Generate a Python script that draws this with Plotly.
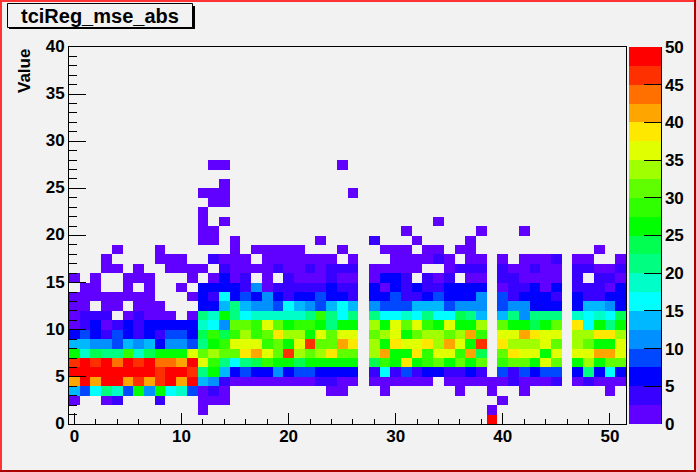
import plotly.graph_objects as go

# Histogram bin centres
x_bins = list(range(52))
y_bins = [v + 0.5 for v in range(40)]

# Colour band of each cell. One character per bin:
# '.' = empty, 0-9 then a-j = palette band 0..19 (each band is 2.5 wide, 0 to 50).
# Groups: x 0-13 | 14-26 | 27 | 28-38 | 39 | 40-45 | 46 | 47-51
row_00 = ".............. ............. . ........... j ...... . ....."
row_01 = "............0. ............. . ........... 0 ...... . ....."
row_02 = "0..01...1...00 0............ . ........... . 0..... . ....."
row_03 = "536873a4a67301 0.........00. . .0......0.. 0 ..0... . ...0."
row_04 = "gjgjjgigijgj54 1000000001100 . 000000.0000 0 010001 . 01000"
row_05 = "jjjjjjjjijji8a 5232242332222 . 16131221121 . 313233 . 28262"
row_06 = "ijijhjijhhgjeb 8689baa9aaaaa . 9bafabcacac . bccaec . adacc"
row_07 = "a7988b79aaaecd ccfgecidcdfcc . dgaafbeebg9 . cfeeae . eegge"
row_08 = "5544354524438a beeebcaeiccgf . dafeefdgeai . fdddec . dcaae"
row_09 = "2321321213329b 9bdbcfddaecee . cdeacddcdgb . eegfee . ddffd"
row_10 = "01201212222276 4ccbecabba8aa . daecebaeaad . caa9ac . f6a8a"
row_11 = "0111.01000.087 a86777778b868 . 86676866985 . 584888 . 76769"
row_12 = "00.00.000...22 5854436543565 . 43335553444 . 344222 . 25542"
row_13 = "00000000...021 6232421223221 . 22311232224 . 312221 . 21122"
row_14 = ".00..0.0..0.22 2214011111211 . 20212112222 . 011202 . 11102"
row_15 = "0.0..000...0.0 201.0.1000100 . 0221.101.00 . 110000 . 1.110"
row_16 = "...00.0..0000. 1000010010111 . 00000..0111 . 100100 . 11001"
row_17 = "...0....000..1 000.0000000.0 . ..000010.00 . 0.0001 . 00..0"
row_18 = "....0...0..... .0.00000...0. . .000.00.00. . ...... . ..0.."
row_19 = "............00 .0.......0... . 1...0....0. . ...... . ....."
row_20 = "............00 ............. . ...0......0 . ..0... . ....."
row_21 = "............0. 0............ . ......0.... . ...... . ....."
row_22 = "............0. ............. . ........... . ...... . ....."
row_23 = ".............0 0............ . ........... . ...... . ....."
row_24 = "............00 0...........0 . ........... . ...... . ....."
row_25 = ".............. 0............ . ........... . ...... . ....."
row_26 = ".............. ............. . ........... . ...... . ....."
row_27 = ".............0 0..........0. . ........... . ...... . ....."
rows = [row_00, row_01, row_02, row_03, row_04, row_05, row_06, row_07, row_08, row_09,
        row_10, row_11, row_12, row_13, row_14, row_15, row_16, row_17, row_18, row_19,
        row_20, row_21, row_22, row_23, row_24, row_25, row_26, row_27]

band_codes = "0123456789abcdefghij"
band_width = 2.5
z_min, z_max = 0, 50
palette = [
    "#6000ff", "#3800ff", "#0000ff", "#0048ff", "#0090ff",
    "#00b8ff", "#00ffff", "#00ffc8", "#00ff80", "#00ff50",
    "#00ff00", "#30ff00", "#60ff00", "#a0ff00", "#e0ff00",
    "#ffe800", "#ffa500", "#ff7000", "#ff3000", "#ff0000",
]

x_major = [0, 10, 20, 30, 40, 50]
y_major = [0, 5, 10, 15, 20, 25, 30, 35, 40]
z_major = [0, 5, 10, 15, 20, 25, 30, 35, 40, 45, 50]
title_text = "tciReg_mse_abs"
y_title = "Value"


def decode(row):
    cells = row.replace(" ", "")
    assert len(cells) == len(x_bins)
    return [None if c == "." else (band_codes.index(c) + 0.5) * band_width for c in cells]


z = [decode(r) for r in rows] + [[None] * len(x_bins) for _ in range(len(y_bins) - len(rows))]

scale = []
for i, c in enumerate(palette):
    scale.append([i / len(palette), c])
    scale.append([(i + 1) / len(palette), c])

W, H = 696, 472
L, R, T, B = 69, 626, 47, 424
BG = "#f2f2f2"
FONT = "Liberation Sans, Arial, sans-serif"
LABEL = dict(family=FONT, size=17, color="black", weight="bold")


def px_x(v):
    return (v - L) / (R - L)


def px_y(v):
    return (B - v) / (B - T)


fig = go.Figure(go.Heatmap(
    x=x_bins, y=y_bins, z=z, zmin=z_min, zmax=z_max, colorscale=scale,
    hoverongaps=False,
    colorbar=dict(
        x=px_x(629), xanchor="left", y=0, yanchor="bottom",
        len=1, lenmode="fraction", thickness=32, thicknessmode="pixels",
        xpad=0, ypad=0, outlinewidth=0, borderwidth=0,
        tickmode="array", tickvals=z_major, ticks="inside", ticklen=17, tickwidth=1, tickcolor="black",
        tickfont=LABEL,
    ),
))


def box(x0, y0, x1, y1, color, line=None):
    return dict(type="rect", xref="paper", yref="paper", x0=px_x(x0), x1=px_x(x1), y0=px_y(y0), y1=px_y(y1),
                fillcolor=color, line=dict(color=line or color, width=1 if line else 0), layer="above")


shapes = [
    box(0, 0, W, 2, "#ff3333"),
    box(0, 0, 2, H, "#ff3333"),
    box(W - 2, 0, W, H, "#aa0000"),
    box(0, H - 2, W, H, "#aa0000"),
    box(9, 6, 195, 29, "black"),
    box(7.5, 3.5, 192.5, 27.5, BG, "black"),
    dict(type="line", xref="paper", yref="paper", x0=px_x(661.5), x1=px_x(661.5), y0=0, y1=1,
         line=dict(color="black", width=1), layer="above"),
]

fig.update_layout(
    width=W, height=H, autosize=False,
    margin=dict(l=L, r=W - R, t=T, b=H - B, pad=0, autoexpand=False),
    paper_bgcolor=BG, plot_bgcolor=BG,
    font=dict(family=FONT, size=17, color="black"),
    shapes=shapes,
    annotations=[
        dict(text=title_text, xref="paper", yref="paper",
             x=px_x(100), y=px_y(15.5), showarrow=False, xanchor="center", yanchor="middle",
             font=dict(family=FONT, size=20, color="black", weight="bold")),
        dict(text=y_title, xref="paper", yref="paper", textangle=-90,
             x=px_x(24), y=px_y(71), showarrow=False, xanchor="center", yanchor="middle",
             font=LABEL),
    ],
    xaxis=dict(range=[-0.5, 51.5], tickmode="array", tickvals=x_major, ticks="inside", ticklen=11, tickwidth=1,
               tickcolor="black", showline=True, linecolor="black", linewidth=1, mirror=True, showgrid=False,
               zeroline=False, tickfont=LABEL, ticklabelstandoff=-3,
               minor=dict(dtick=2, ticks="inside", ticklen=5, tickwidth=1, tickcolor="black", showgrid=False)),
    yaxis=dict(range=[0, 40], tickmode="array", tickvals=y_major, ticks="inside", ticklen=17, tickwidth=1,
               tickcolor="black", showline=True, linecolor="black", linewidth=1, mirror=True, showgrid=False,
               zeroline=False, tickfont=LABEL, ticklabelshift=-1,
               minor=dict(dtick=1, ticks="inside", ticklen=8, tickwidth=1, tickcolor="black", showgrid=False)),
)

fig.write_html("out.html", config=dict(displayModeBar=False),
               post_script="document.body.style.margin='0';document.body.style.overflow='hidden';")
